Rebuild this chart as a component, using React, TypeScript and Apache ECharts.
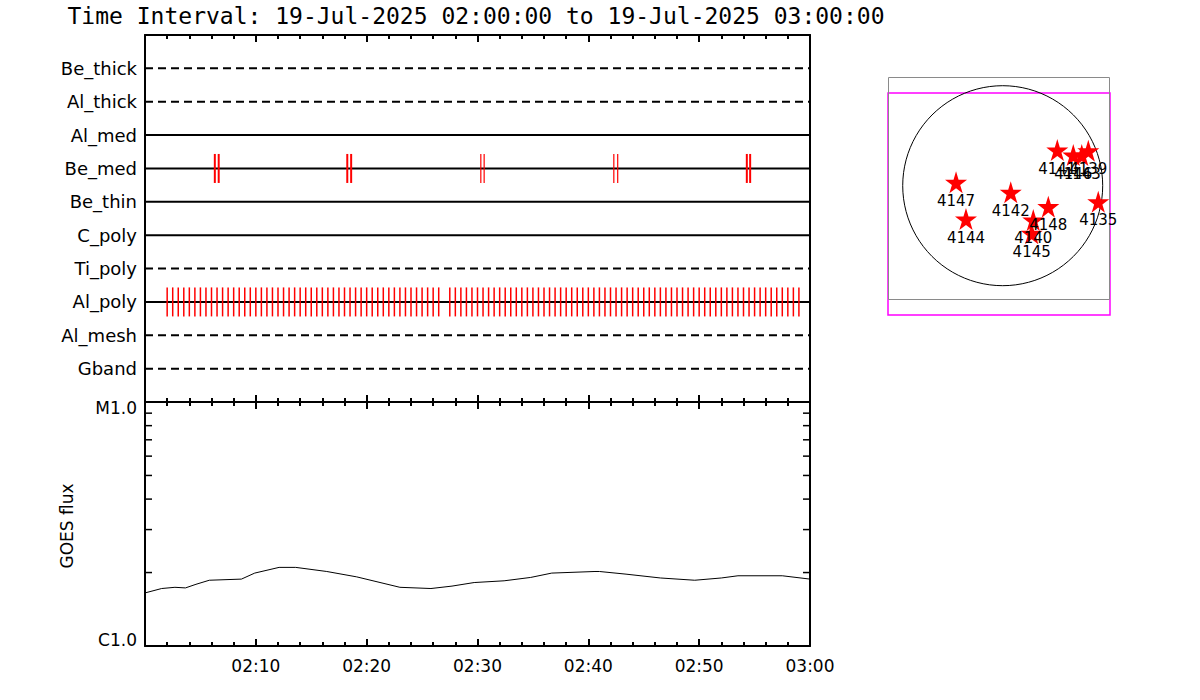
import React, { useEffect, useRef } from "react";
import * as echarts from "echarts";

// ---------- data ----------
const TITLE = "Time Interval: 19-Jul-2025 02:00:00 to 19-Jul-2025 03:00:00";
const ROW_NAMES = ["Be_thick", "Al_thick", "Al_med", "Be_med", "Be_thin", "C_poly", "Ti_poly", "Al_poly", "Al_mesh", "Gband"];
const ROW_DASHED = [true, true, false, false, false, false, true, false, true, true];
const TIME_TICK_LABELS = ["02:00", "02:10", "02:20", "02:30", "02:40", "02:50", "03:00"];

// event times, minutes after 02:00
const BE_MED_STRONG = [6.3, 6.65, 18.25, 18.6, 54.3, 54.6];
const BE_MED_WEAK = [30.3, 30.6, 42.3, 42.65];
const AL_POLY_EVENTS = [
  2, 2.5, 3, 3.5, 4, 4.5, 5, 5.5, 6, 6.5, 7, 7.5, 8, 8.5, 9, 9.5, 10, 10.5, 11, 11.5,
  12, 12.5, 13, 13.5, 14, 14.5, 15, 15.5, 16, 16.5, 17, 17.5, 18, 18.5, 19, 19.5, 20, 20.5,
  21, 21.5, 22, 22.5, 23, 23.5, 24, 24.5, 25, 25.5, 26, 26.5, 27.5, 28, 28.5, 29, 29.5,
  30, 30.5, 31, 31.5, 32, 32.5, 33, 33.5, 34, 34.5, 35, 35.5, 36, 36.5, 37, 37.5, 38, 38.5,
  39, 39.5, 40, 40.5, 41, 41.5, 42, 42.5, 43, 43.5, 44, 44.5, 45, 45.5, 46, 46.5, 47, 47.5,
  48, 48.5, 49, 49.5, 50, 50.5, 51, 51.5, 52, 52.5, 53, 53.5, 54, 54.5, 55, 55.5, 56, 56.5,
  57, 57.5, 58, 58.5, 59,
];

// GOES flux (W/m^2)
const GOES_MIN = [0, 1.5, 2.7, 3.65, 4.6, 5.8, 8.7, 9.9, 12.1, 13.6, 16.4, 19.1, 23.0, 25.8, 27.7, 29.7, 32.4, 34.8, 36.7, 40.6, 41.0, 43.4, 46.5, 49.6, 52.0, 53.5, 57.5, 60];
const GOES_FLUX = [1.65e-6, 1.72e-6, 1.74e-6, 1.73e-6, 1.79e-6, 1.86e-6, 1.88e-6, 1.99e-6, 2.10e-6, 2.10e-6, 2.02e-6, 1.92e-6, 1.74e-6, 1.72e-6, 1.76e-6, 1.82e-6, 1.85e-6, 1.91e-6, 1.99e-6, 2.02e-6, 2.02e-6, 1.97e-6, 1.90e-6, 1.86e-6, 1.90e-6, 1.94e-6, 1.94e-6, 1.88e-6];
const FLUX_MINOR_TICKS = [2e-6, 3e-6, 4e-6, 5e-6, 6e-6, 7e-6, 8e-6, 9e-6];
const FLUX_MIN = 1e-6;
const FLUX_MAX = 1e-5;

// active regions, heliocentric arcsec
const AR_NUMBERS = ["4147", "4144", "4142", "4148", "4140", "4145", "4135", "4141", "4146", "4143", "4139"];
const AR_X = [-441, -347, 76, 431, 289, 274, 903, 516, 667, 747, 809];
const AR_Y = [32, -315, -62, -198, -324, -450, -151, 337, 290, 290, 331];
const SUN_RADIUS = 945;

// ---------- chart ----------
const FONT = "DejaVu Sans";
const TITLE_FONT = "DejaVu Sans Mono";
const STAR = "path://M50,0 L61,35 L98,35 L68,57 L79,91 L50,70 L21,91 L32,57 L2,35 L39,35 Z";

export default function App() {
  const ref = useRef<HTMLDivElement>(null);
  useEffect(() => {
    if (!ref.current) return;
    const chart = echarts.init(ref.current, undefined, { renderer: "svg" });

    const axisLineStyle = { show: true, onZero: false, lineStyle: { color: "#000", width: 2 } };
    const timeAxisBase = (gridIndex: number, position: string, labels: boolean) => ({
      type: "value",
      gridIndex,
      position,
      min: 0,
      max: 60,
      interval: 10,
      axisLine: axisLineStyle,
      axisTick: { show: true, inside: true, length: 7, lineStyle: { color: "#000", width: 2 } },
      minorTick: { show: true, splitNumber: 5, length: 4, lineStyle: { color: "#000", width: 2 } },
      splitLine: { show: false },
      minorSplitLine: { show: false },
      axisLabel: labels
        ? {
            show: true,
            margin: 11,
            color: "#000",
            fontFamily: FONT,
            fontSize: 17,
            formatter: (v: number) => (v === 0 ? "" : TIME_TICK_LABELS[Math.round(v / 10)]),
          }
        : { show: false },
    });

    const rowSeries = ROW_NAMES.map((name, i) => ({
      type: "line",
      name,
      xAxisIndex: 0,
      yAxisIndex: 0,
      data: [
        [0, i + 1],
        [60, i + 1],
      ],
      symbol: "none",
      silent: true,
      lineStyle: { color: "#000", width: 2, type: ROW_DASHED[i] ? [8, 5] : "solid" },
      z: 2,
    }));

    const beMedRow = ROW_NAMES.indexOf("Be_med") + 1;
    const alPolyRow = ROW_NAMES.indexOf("Al_poly") + 1;

    const eventSeries = (data: number[], row: number, width: number) => ({
      type: "scatter",
      xAxisIndex: 0,
      yAxisIndex: 0,
      data: data.map((t) => [t, row]),
      symbol: "rect",
      symbolSize: [width, 29],
      itemStyle: { color: "#ff0000", opacity: 1 },
      silent: true,
      z: 3,
    });

    const option: any = {
      animation: false,
      backgroundColor: "#fff",
      textStyle: { fontFamily: FONT },
      grid: [
        { left: 145, top: 35, width: 665, height: 367, containLabel: false },
        { left: 145, top: 402, width: 665, height: 244, containLabel: false },
        { left: 888, top: 93, width: 222, height: 222, show: true, borderColor: "#ff00ff", borderWidth: 1.5, backgroundColor: "transparent", containLabel: false },
      ],
      xAxis: [
        timeAxisBase(0, "bottom", false),
        timeAxisBase(0, "top", false),
        timeAxisBase(1, "bottom", true),
        timeAxisBase(1, "top", false),
        { type: "value", gridIndex: 2, min: -1084, max: 1014, show: false },
      ],
      yAxis: [
        {
          type: "value",
          gridIndex: 0,
          position: "left",
          min: 0,
          max: 11,
          interval: 1,
          inverse: true,
          axisLine: axisLineStyle,
          axisTick: { show: false },
          splitLine: { show: false },
          axisLabel: {
            margin: 8,
            color: "#000",
            fontFamily: FONT,
            fontSize: 18,
            formatter: (v: number) => ROW_NAMES[v - 1] ?? "",
          },
        },
        {
          type: "value",
          gridIndex: 0,
          position: "right",
          min: 0,
          max: 11,
          axisLine: axisLineStyle,
          axisTick: { show: false },
          splitLine: { show: false },
          axisLabel: { show: false },
        },
        {
          type: "log",
          gridIndex: 1,
          position: "left",
          min: FLUX_MIN,
          max: FLUX_MAX,
          logBase: 10,
          axisLine: axisLineStyle,
          axisTick: { show: false },
          splitLine: { show: false },
          axisLabel: {
            margin: 8,
            color: "#000",
            fontFamily: FONT,
            fontSize: 17,
            formatter: (v: number) => (v < 3e-6 ? "{b|C1.0}" : "{t|M1.0}"),
            rich: {
              t: { fontFamily: FONT, fontSize: 17, color: "#000", padding: [12, 0, 0, 0] },
              b: { fontFamily: FONT, fontSize: 17, color: "#000", padding: [0, 0, 12, 0] },
            },
          },
        },
        {
          type: "log",
          gridIndex: 1,
          position: "right",
          min: FLUX_MIN,
          max: FLUX_MAX,
          axisLine: axisLineStyle,
          axisTick: { show: false },
          splitLine: { show: false },
          axisLabel: { show: false },
        },
        { type: "value", gridIndex: 2, min: -1222, max: 876, show: false },
      ],
      graphic: [
        {
          type: "text",
          x: 476,
          y: 16,
          style: { text: TITLE, fill: "#000", font: `23px '${TITLE_FONT}'`, align: "center", verticalAlign: "middle" },
        },
        {
          type: "text",
          x: 67,
          y: 526,
          rotation: Math.PI / 2,
          style: { text: "GOES flux", fill: "#000", font: `17px '${FONT}'`, align: "center", verticalAlign: "middle" },
        },
        {
          type: "rect",
          shape: { x: 888.5, y: 77.5, width: 221, height: 222 },
          style: { fill: "none", stroke: "#8a8a8a", lineWidth: 1 },
          z: 0,
        },
      ],
      series: [
        ...rowSeries,
        eventSeries(BE_MED_STRONG, beMedRow, 2),
        eventSeries(BE_MED_WEAK, beMedRow, 1.2),
        eventSeries(AL_POLY_EVENTS, alPolyRow, 1.5),
        {
          type: "line",
          xAxisIndex: 2,
          yAxisIndex: 2,
          data: GOES_MIN.map((t, i) => [t, GOES_FLUX[i]]),
          symbol: "none",
          silent: true,
          lineStyle: { color: "#000", width: 1 },
        },
        {
          type: "custom",
          xAxisIndex: 2,
          yAxisIndex: 2,
          data: FLUX_MINOR_TICKS.map((v) => [0, v]),
          encode: { x: 0, y: 1 },
          silent: true,
          renderItem: (_p: any, api: any) => {
            const v = api.value(1);
            const l = api.coord([0, v]);
            const r = api.coord([60, v]);
            const st = { stroke: "#000", lineWidth: 1.5 };
            return {
              type: "group",
              children: [
                { type: "line", shape: { x1: l[0], y1: l[1], x2: l[0] + 7, y2: l[1] }, style: st },
                { type: "line", shape: { x1: r[0] - 7, y1: r[1], x2: r[0], y2: r[1] }, style: st },
              ],
            };
          },
        },
        {
          type: "custom",
          xAxisIndex: 4,
          yAxisIndex: 4,
          data: [[0, 0]],
          silent: true,
          renderItem: (_p: any, api: any) => {
            const c = api.coord([api.value(0), api.value(1)]);
            const e = api.coord([api.value(0) + SUN_RADIUS, api.value(1)]);
            return {
              type: "circle",
              shape: { cx: c[0], cy: c[1], r: e[0] - c[0] },
              style: { fill: "none", stroke: "#000", lineWidth: 1 },
            };
          },
        },
        {
          type: "scatter",
          xAxisIndex: 4,
          yAxisIndex: 4,
          data: AR_NUMBERS.map((n, i) => ({ name: n, value: [AR_X[i], AR_Y[i]] })),
          symbol: STAR,
          symbolSize: 22,
          itemStyle: { color: "#ff0000", opacity: 1 },
          silent: true,
          label: {
            show: true,
            position: "bottom",
            distance: 0,
            formatter: "{b}",
            color: "#000",
            fontFamily: FONT,
            fontSize: 15,
          },
          labelLayout: { hideOverlap: false },
          z: 5,
        },
      ],
    };

    chart.setOption(option);
    return () => chart.dispose();
  }, []);

  return (
    <div
      ref={ref}
      style={{ position: "absolute", left: 0, top: 0, width: 1200, height: 700, background: "#fff" }}
    />
  );
}
